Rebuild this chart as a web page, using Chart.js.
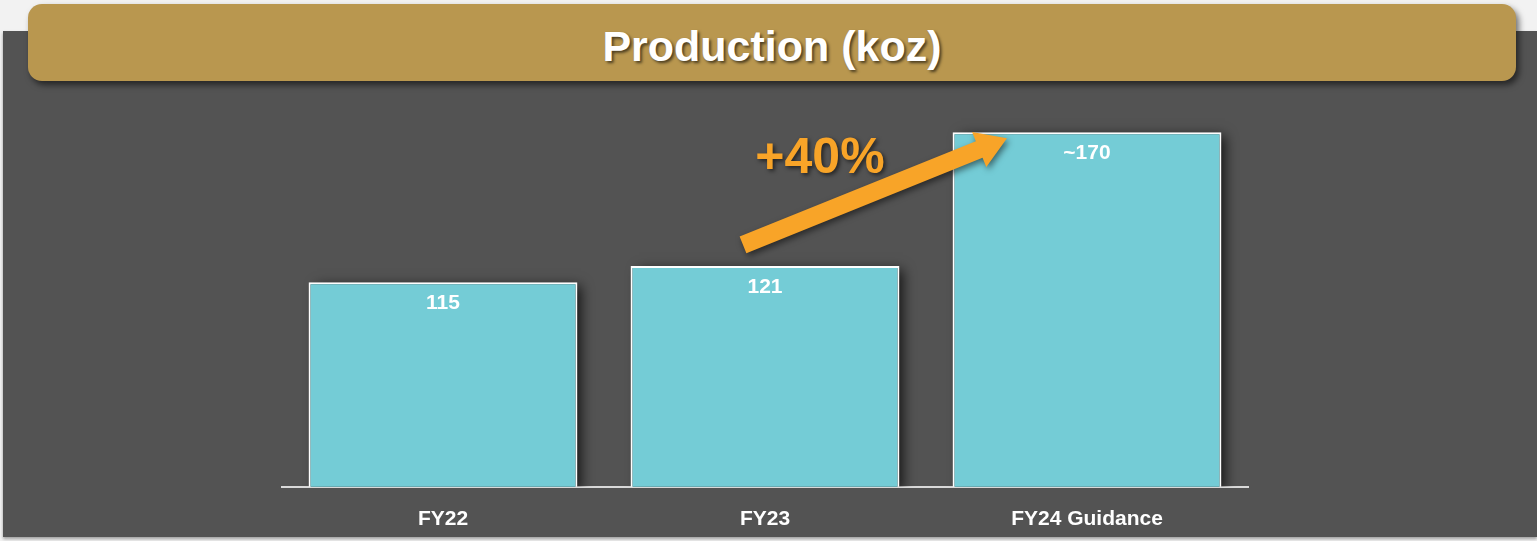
<!DOCTYPE html>
<html>
<head>
<meta charset="utf-8">
<script src="https://cdn.jsdelivr.net/npm/chart.js@4/dist/chart.umd.min.js"></script>
<style>
	html, body { margin: 0; padding: 0; width: 1537px; height: 541px; overflow: hidden; background: #f2f2f2; font-family: "Liberation Sans", Arial, sans-serif; }
	#panel { position: absolute; left: 3px; top: 31px; width: 1534px; height: 506px; background: #535353; box-shadow: 0 2px 3px rgba(0,0,0,0.35); }
	#banner { position: absolute; left: 28px; top: 4px; width: 1488px; height: 77px; background: #b9974f; border-radius: 14px; box-shadow: 3px 4px 6px rgba(0,0,0,0.55); text-align: center; }
	#banner h1 { margin: 0; padding-top: 4px; line-height: 77px; font-size: 43px; font-weight: bold; color: #ffffff; text-shadow: 2px 2px 3px rgba(0,0,0,0.6); }
	#chart-box { position: absolute; left: 0; top: 0; width: 1537px; height: 560px; }
</style>
</head>
<body>
<div id="panel"></div>
<div id="banner"><h1>Production (koz)</h1></div>
<div id="chart-box"><canvas id="production-bar-chart" width="1537" height="560"></canvas></div>

<script>

	var categories = ['FY22', 'FY23', 'FY24 Guidance'];
	var production = [115, 121, 170];
	var valueLabels = ['115', '121', '~170'];
	var growthLabel = '+40%';

	var barFill = '#74ccd6';
	var orange = '#f8a428';

	// dark drop shadow to the right of each bar, painted before the bars
	var barShadow = {
		id: 'barShadow',
		beforeDatasetsDraw: function (chart) {
			var ctx = chart.ctx;
			var area = chart.chartArea;
			ctx.save();
			ctx.beginPath();
			ctx.rect(area.left, area.top - 10, area.right - area.left + 20, area.bottom - area.top + 10);
			ctx.clip();
			ctx.shadowColor = 'rgba(0,0,0,0.75)';
			ctx.shadowBlur = 12;
			ctx.shadowOffsetX = 6;
			ctx.shadowOffsetY = 2;
			ctx.fillStyle = '#3a3a3a';
			chart.getDatasetMeta(0).data.forEach(function (bar) {
				var p = bar.getProps(['x', 'y', 'width', 'base'], true);
				ctx.fillRect(p.x - p.width / 2 + 2, p.y + 2, p.width - 4, area.bottom - p.y);
			});
			ctx.restore();
		}
	};

	// value labels inside the bar tops, plus the growth arrow
	var barNotes = {
		id: 'barNotes',
		afterDraw: function (chart) {
			var ctx = chart.ctx;
			var meta = chart.getDatasetMeta(0);
			var x = chart.scales.x;
			var y = chart.scales.y;

			ctx.save();
			ctx.fillStyle = '#ffffff';
			ctx.font = 'bold 21px "Liberation Sans", Arial, sans-serif';
			ctx.textAlign = 'center';
			ctx.textBaseline = 'middle';
			meta.data.forEach(function (bar, i) {
				ctx.fillText(valueLabels[i], bar.x, bar.y + 21);
			});
			ctx.restore();

			// arrow from FY23 to FY24
			var x0 = x.getPixelForValue(1) - 22;
			var y0 = y.getPixelForValue(production[1]) - 21;
			var x1 = x.getPixelForValue(2) - 80;
			var y1 = y.getPixelForValue(production[2]) + 6;
			var ang = Math.atan2(y1 - y0, x1 - x0);
			var len = Math.hypot(x1 - x0, y1 - y0);
			var shaft = 9, head = 19, headLen = 30;

			ctx.save();
			ctx.translate(x0, y0);
			ctx.rotate(ang);
			ctx.shadowColor = 'rgba(0,0,0,0.5)';
			ctx.shadowBlur = 6;
			ctx.shadowOffsetX = 2;
			ctx.shadowOffsetY = 3;
			ctx.fillStyle = orange;
			ctx.beginPath();
			ctx.moveTo(0, -shaft);
			ctx.lineTo(len - headLen, -shaft);
			ctx.lineTo(len - headLen, -head);
			ctx.lineTo(len, 0);
			ctx.lineTo(len - headLen, head);
			ctx.lineTo(len - headLen, shaft);
			ctx.lineTo(0, shaft);
			ctx.closePath();
			ctx.fill();
			ctx.restore();

			ctx.save();
			ctx.fillStyle = orange;
			ctx.font = 'bold 50px "Liberation Sans", Arial, sans-serif';
			ctx.textAlign = 'center';
			ctx.textBaseline = 'middle';
			ctx.shadowColor = 'rgba(0,0,0,0.6)';
			ctx.shadowBlur = 4;
			ctx.shadowOffsetX = 2;
			ctx.shadowOffsetY = 2;
			ctx.fillText(growthLabel, x.getPixelForValue(1) + 55, y.getPixelForValue(production[2]) + 27);
			ctx.restore();
		}
	};

	new Chart(document.getElementById('production-bar-chart'), {
		type: 'bar',
		data: {
			labels: categories,
			datasets: [{
				data: production,
				backgroundColor: barFill,
				borderColor: '#ffffff',
				borderWidth: 2,
				categoryPercentage: 1,
				barPercentage: 0.835
			}]
		},
		options: {
			responsive: false,
			animation: false,
			layout: { padding: { left: 282, right: 289, top: 105, bottom: 16 } },
			plugins: {
				legend: { display: false },
				tooltip: { enabled: false }
			},
			scales: {
				x: {
					grid: { display: false },
					border: { display: true, color: '#d9d9d9', width: 2 },
					ticks: {
						color: '#ffffff',
						padding: 12,
						font: { family: '"Liberation Sans", Arial, sans-serif', size: 21, weight: 'bold' }
					}
				},
				y: {
					display: false,
					min: 40,
					max: 180
				}
			}
		},
		plugins: [barShadow, barNotes]
	});

</script>
</body>
</html>
